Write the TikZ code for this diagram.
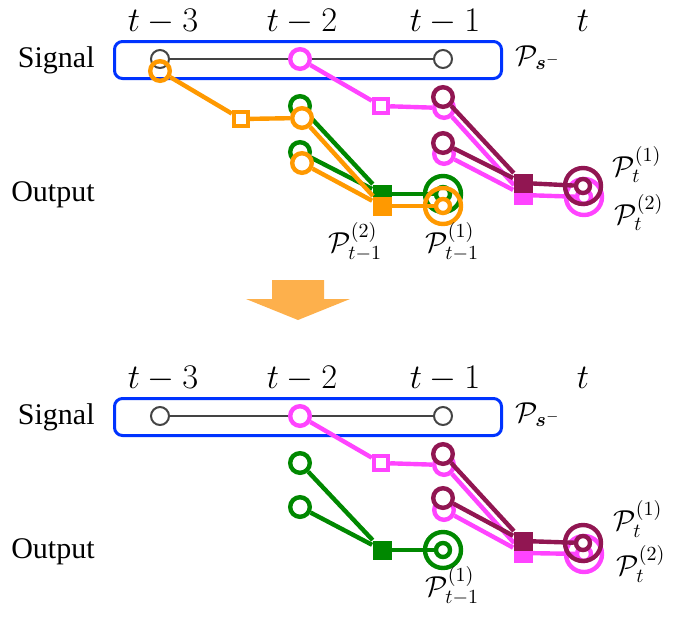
\documentclass[tikz,border=0pt]{standalone}
\usepackage{fontspec}
\usepackage{amsmath}
\newfontfamily\timesf{Liberation Serif}
\definecolor{cgreen}{RGB}{0,136,0}
\definecolor{corange}{RGB}{255,153,0}
\definecolor{cmag}{RGB}{255,68,255}
\definecolor{cmaroon}{RGB}{145,22,82}
\definecolor{cblue}{RGB}{0,51,255}
\definecolor{cgray}{RGB}{68,68,68}
\definecolor{carrow}{RGB}{253,176,76}
\tikzset{
 sigc/.style={circle, draw=cgray, line width=1pt, fill=white, minimum size=9pt, inner sep=0pt},
 pc/.style={circle, draw=#1, line width=2.2pt, fill=white, minimum size=9.8pt, inner sep=0pt},
 osq/.style={rectangle, draw=#1, line width=2.2pt, fill=white, minimum size=7pt, inner sep=0pt},
 fsq/.style={rectangle, fill=#1, minimum size=9.5pt, inner sep=0pt},
 dring/.style={circle, draw=#1, line width=2.2pt, minimum size=18pt, inner sep=0pt},
 innc/.style={circle, draw=#1, line width=2.2pt, fill=white, minimum size=7pt, inner sep=0pt},
 conn/.style={draw=#1, line width=2.2pt},
 glink/.style={draw=cgray, line width=0.75pt},
 sigbox/.style={draw=cblue, line width=1.5pt, rounded corners=4pt, minimum width=193.5pt, minimum height=18.5pt, inner sep=0pt},
 tlab/.style={font=\timesf\fontsize{15}{17}\selectfont, inner sep=0pt},
 mlab/.style={font=\fontsize{14.4}{17}\selectfont, inner sep=0pt},
 hlab/.style={font=\fontsize{16.5}{19}\selectfont, inner sep=0pt},
}
\newcommand{\panelbase}[1]{%
 \node[hlab, anchor=base] (#1l3) at (163,31) {$t-3$};
 \node[hlab, anchor=base] (#1l2) at (302,31) {$t-2$};
 \node[hlab, anchor=base] (#1l1) at (445,31) {$t-1$};
 \node[hlab, anchor=base] (#1l0) at (583,31) {$t$};
 \node[tlab, anchor=base east] (#1sig) at (95,67) {Signal};
 \node[tlab, anchor=base east] (#1out) at (95,201) {Output};
 \node[sigbox] (#1box) at (308,60) {};
 \node[mlab, anchor=base west] (#1ps) at (515,65) {$\mathcal{P}_{\boldsymbol{s}^-}$};
 \node[sigc] (#1s3) at (160,59) {};
 \node[sigc] (#1s2) at (300,59) {};
 \node[sigc] (#1s1) at (443,59) {};
 \draw[glink] (#1s3) -- (#1s2) -- (#1s1);
}
\begin{document}
\begin{tikzpicture}[x=0.5pt,y=-0.5pt]
\useasboundingbox (0,0) rectangle (681,618);
% ---------------- top panel ----------------
\panelbase{a}
% green
\node[pc=cgreen] (ag1) at (300,106) {};
\node[pc=cgreen] (ag2) at (300,152) {};
\node[fsq=cgreen] (agq) at (382,194) {};
\node[dring=cgreen] (agd) at (443,194) {};
\node[innc=cgreen] (agi) at (443,194) {};
\draw[conn=cgreen] (ag1) -- (agq);
\draw[conn=cgreen] (ag2) -- (agq);
\draw[conn=cgreen] (agq) -- (agi);
% orange
\node[pc=corange, fill=none] (ao0) at (160,71) {};
\node[osq=corange] (aos) at (241,119) {};
\node[pc=corange] (ao1) at (302,118) {};
\node[pc=corange] (ao2) at (302,163) {};
\node[fsq=corange] (aoq) at (382,206) {};
\node[dring=corange] (aod) at (443,206) {};
\node[innc=corange] (aoi) at (443,206) {};
\draw[conn=corange] (ao0) -- (aos);
\draw[conn=corange] (aos) -- (ao1);
\draw[conn=corange] (ao1) -- (aoq);
\draw[conn=corange] (ao2) -- (aoq);
\draw[conn=corange] (aoq) -- (aoi);
% magenta
\node[pc=cmag] (am0) at (300,59) {};
\node[osq=cmag] (ams) at (381,106) {};
\node[pc=cmag] (am1) at (444,108) {};
\node[pc=cmag] (am2) at (444,154) {};
\node[fsq=cmag] (amq) at (523,195) {};
\node[dring=cmag] (amd) at (584,197) {};
\node[innc=cmag] (ami) at (584,197) {};
\draw[conn=cmag] (am0) -- (ams);
\draw[conn=cmag] (ams) -- (am1);
\draw[conn=cmag] (am1) -- (amq);
\draw[conn=cmag] (am2) -- (amq);
\draw[conn=cmag] (amq) -- (ami);
% maroon
\node[pc=cmaroon] (ar1) at (443,97) {};
\node[pc=cmaroon] (ar2) at (443,143) {};
\node[fsq=cmaroon] (arq) at (523,183) {};
\node[dring=cmaroon] (ard) at (583,186) {};
\node[innc=cmaroon] (ari) at (583,186) {};
\draw[conn=cmaroon] (ar1) -- (arq);
\draw[conn=cmaroon] (ar2) -- (arq);
\draw[conn=cmaroon] (arq) -- (ari);
% labels
\node[mlab, anchor=base west] (apt1) at (612,176) {$\mathcal{P}_t^{(1)}$};
\node[mlab, anchor=base west] (apt2) at (614,224) {$\mathcal{P}_t^{(2)}$};
\node[mlab, anchor=base west] (apa2) at (328,252) {$\mathcal{P}_{t-1}^{(2)}$};
\node[mlab, anchor=base west] (apa1) at (425,252) {$\mathcal{P}_{t-1}^{(1)}$};
% ---------------- arrow ----------------
\fill[carrow] (272,280) -- (324,280) -- (324,299) -- (350,299) -- (298,320) -- (246,299) -- (272,299) -- cycle;
% ---------------- bottom panel ----------------
\begin{scope}[shift={(0,357)}]
\panelbase{b}
% green
\node[pc=cgreen] (bg1) at (300,106) {};
\node[pc=cgreen] (bg2) at (300,150) {};
\node[fsq=cgreen] (bgq) at (382,193) {};
\node[dring=cgreen] (bgd) at (443,193) {};
\node[innc=cgreen] (bgi) at (443,193) {};
\draw[conn=cgreen] (bg1) -- (bgq);
\draw[conn=cgreen] (bg2) -- (bgq);
\draw[conn=cgreen] (bgq) -- (bgi);
% magenta
\node[pc=cmag] (bm0) at (300,59) {};
\node[osq=cmag] (bms) at (381,106) {};
\node[pc=cmag] (bm1) at (444,108) {};
\node[pc=cmag] (bm2) at (444,153) {};
\node[fsq=cmag] (bmq) at (523,196) {};
\node[dring=cmag] (bmd) at (584,197) {};
\node[innc=cmag] (bmi) at (584,197) {};
\draw[conn=cmag] (bm0) -- (bms);
\draw[conn=cmag] (bms) -- (bm1);
\draw[conn=cmag] (bm1) -- (bmq);
\draw[conn=cmag] (bm2) -- (bmq);
\draw[conn=cmag] (bmq) -- (bmi);
% maroon
\node[pc=cmaroon] (br1) at (443,97) {};
\node[pc=cmaroon] (br2) at (443,141) {};
\node[fsq=cmaroon] (brq) at (523,184) {};
\node[dring=cmaroon] (brd) at (583,186) {};
\node[innc=cmaroon] (bri) at (583,186) {};
\draw[conn=cmaroon] (br1) -- (brq);
\draw[conn=cmaroon] (br2) -- (brq);
\draw[conn=cmaroon] (brq) -- (bri);
% labels
\node[mlab, anchor=base west] (bpt1) at (613,173) {$\mathcal{P}_t^{(1)}$};
\node[mlab, anchor=base west] (bpt2) at (616,218) {$\mathcal{P}_t^{(2)}$};
\node[mlab, anchor=base west] (bpa1) at (425,239) {$\mathcal{P}_{t-1}^{(1)}$};
\end{scope}
\end{tikzpicture}
\end{document}
